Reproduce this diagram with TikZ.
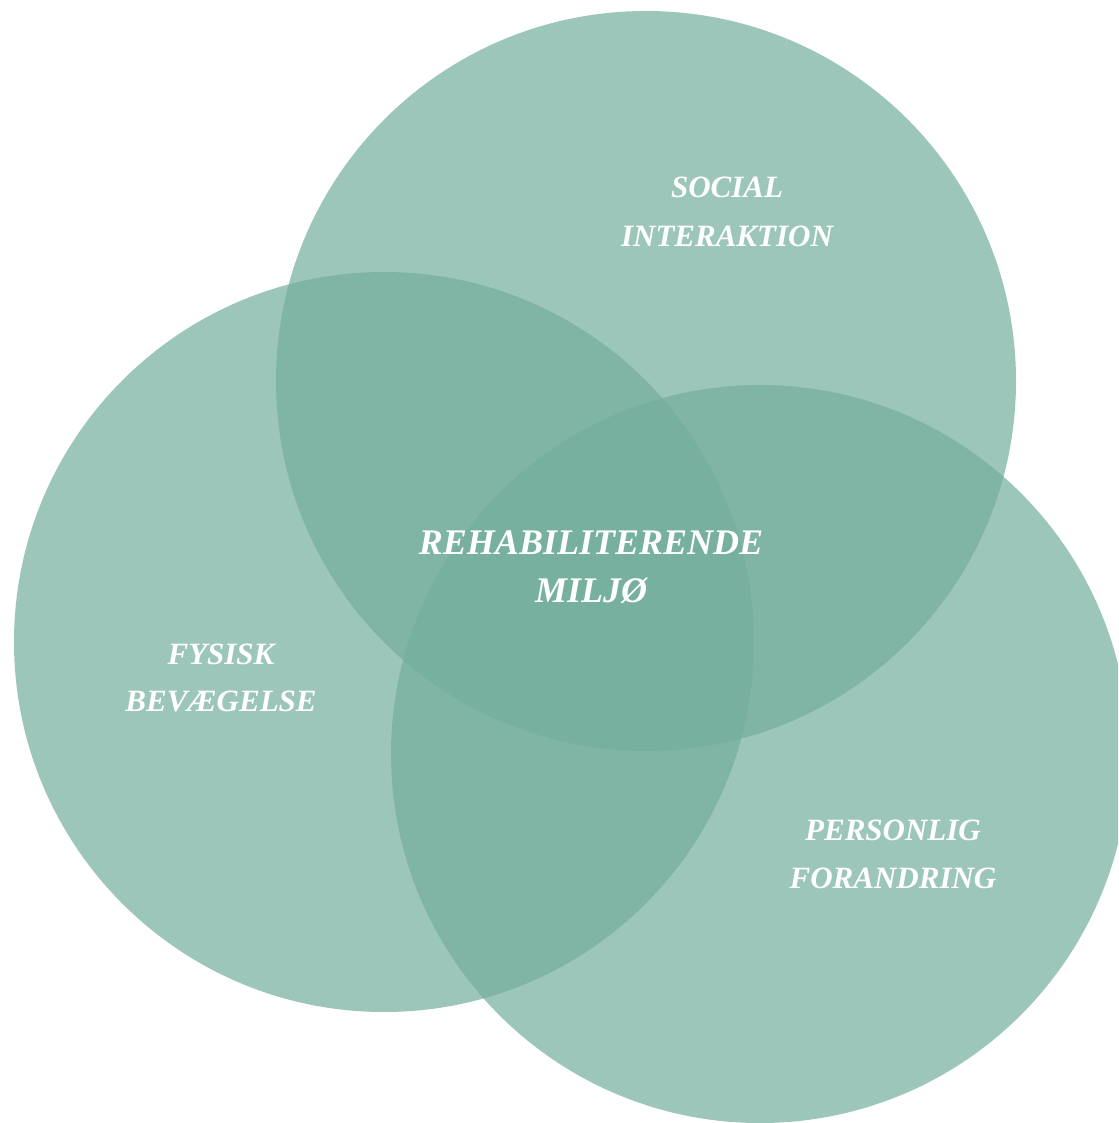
\documentclass[tikz,border=0pt]{standalone}
\usepackage{fontspec}
\setmainfont{Liberation Serif}
\definecolor{venn}{RGB}{115,174,156}
\begin{document}
\begin{tikzpicture}[x=1pt,y=-1pt,
  blob/.style={fill=venn,fill opacity=0.7,draw=none},
  lbl/.style={text=white,font=\fontsize{31}{48}\selectfont\bfseries\itshape,inner sep=0pt,anchor=base},
  bigl/.style={lbl,font=\fontsize{36}{48}\selectfont\bfseries\itshape}]
\useasboundingbox (0,0) rectangle (1118,1123);
\begin{scope}
\clip (0,0) rectangle (1118,1123);
\path[blob] (646,381) circle[radius=370];
\path[blob] (384,642) circle[radius=370];
\path[blob] (760,754) circle[radius=369];
\end{scope}
\node[lbl] (s1) at (727,198) {SOCIAL};
\node[lbl] (s2) at (727,246) {INTERAKTION};
\node[bigl] (r1) at (591,554) {REHABILITERENDE};
\node[bigl] (r2) at (591,602) {MILJØ};
\node[lbl] (f1) at (221,664) {FYSISK};
\node[lbl] (f2) at (221,711) {BEVÆGELSE};
\node[lbl] (p1) at (893,840) {PERSONLIG};
\node[lbl] (p2) at (893,888) {FORANDRING};
\end{tikzpicture}
\end{document}
